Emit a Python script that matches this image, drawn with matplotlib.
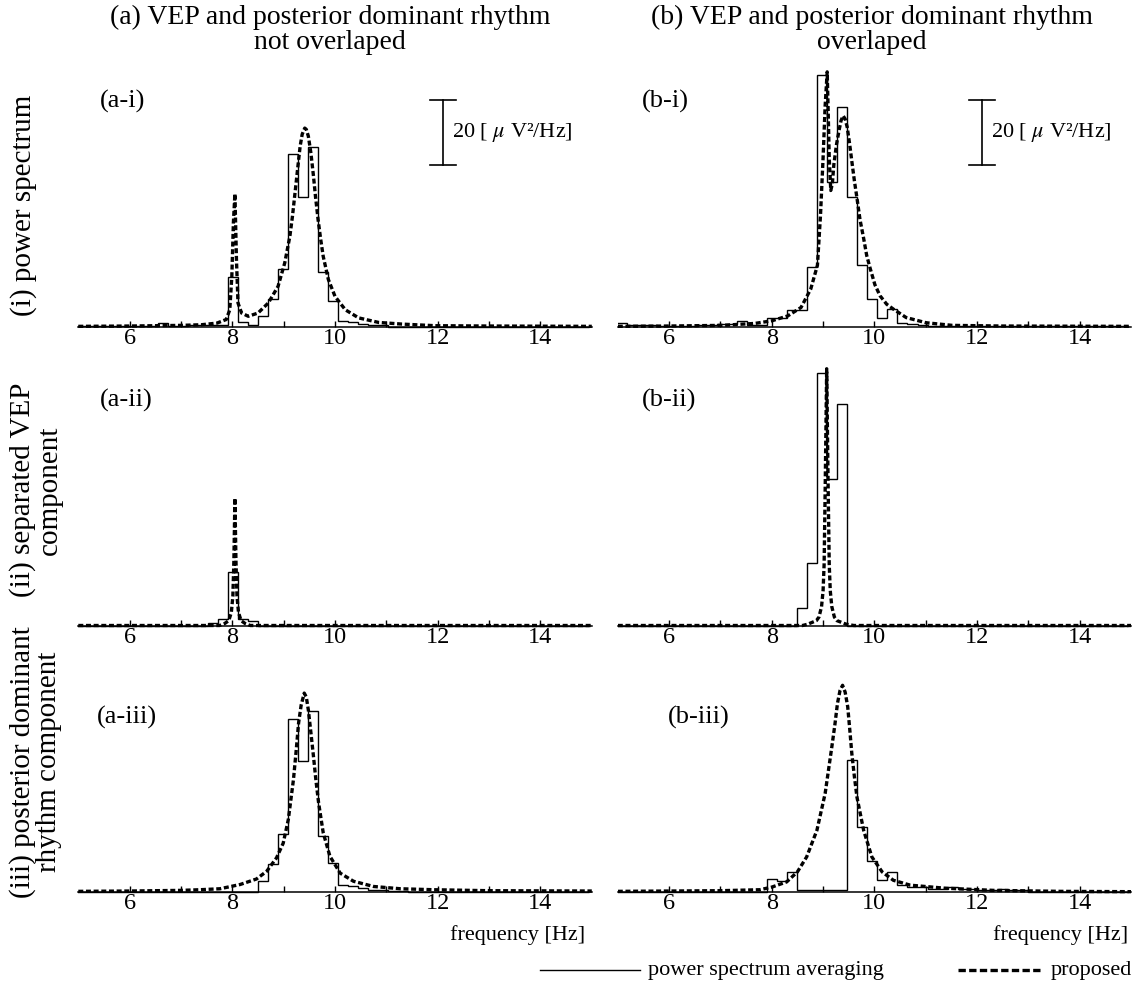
import numpy as np
import matplotlib
matplotlib.use("Agg")
import matplotlib.pyplot as plt
from matplotlib.lines import Line2D

plt.rcParams['font.family'] = ['Liberation Serif', 'DejaVu Serif']
plt.rcParams['mathtext.fontset'] = 'stix'

# ---------------- data ----------------
# spectral bins (index k, centre k/5.12 Hz)
bin_index = list(range(26, 77))
bin_res = 5.12

step_a_i = [0.3, 0.3, 0.3, 0.3, 0.3, 0.3, 0.3, 0.3,
            1.3, 0.4, 0.4, 0.5, 0.5, 0.6, 0.7, 15.4, 1.5, 0.7, 3.3, 8.7, 17.8,
            53.3, 40.1, 55.4, 16.8, 8.1, 2.0, 1.5, 0.9, 0.5, 0.5,
            0.1, 0.1, 0.1, 0.1, 0.1, 0.1, 0.1, 0.1, 0.1, 0.1,
            0.1, 0.1, 0.1, 0.1, 0.1, 0.1, 0.1, 0.1, 0.1, 0.1]
step_b_i = [1.2, 0.5, 0.5, 0.7, 0.3, 0.3, 0.3, 0.3, 0.5, 0.5, 1.0, 1.0, 1.7,
            0.5, 0.5, 2.9, 2.9, 5.3, 5.3, 18.5, 77.5, 44.5, 67.8, 40.1, 19.1,
            8.7, 2.9, 5.4, 1.2, 0.8, 0.5, 0.4, 0.4,
            0.2, 0.2, 0.2, 0.2, 0.2, 0.2, 0.2, 0.2, 0.2, 0.2, 0.2, 0.2, 0.2,
            0.2, 0.2, 0.2, 0.2, 0.2]
step_a_ii = [0, 0, 0, 0, 0, 0, 0, 0, 0, 0, 0, 0, 0,
             0.7, 1.9, 16.4, 1.9, 1.4,
             0, 0, 0, 0, 0, 0, 0, 0, 0, 0, 0, 0, 0, 0, 0, 0, 0, 0, 0, 0,
             0, 0, 0, 0, 0, 0, 0, 0, 0, 0, 0, 0, 0]
step_b_ii = [0, 0, 0, 0, 0, 0, 0, 0, 0, 0, 0, 0, 0, 0, 0, 0, 0, 0,
             5.3, 19.3, 77.7, 45.1, 68.2,
             0, 0, 0, 0, 0, 0, 0, 0, 0, 0, 0, 0, 0, 0, 0, 0, 0, 0, 0, 0,
             0, 0, 0, 0, 0, 0, 0, 0]
step_a_iii = [0, 0, 0, 0, 0, 0, 0, 0, 0, 0, 0, 0, 0, 0, 0, 0, 0, 0,
              3.3, 8.7, 17.8, 53.3, 40.4, 55.6, 17.1, 8.9, 2.2, 1.7, 1.1,
              0.7, 0.7, 0.3, 0.3,
              0.1, 0.1, 0.1, 0.1, 0.1, 0.1, 0.1, 0.1, 0.1, 0.1, 0.1, 0.1,
              0.1, 0.1, 0.1, 0.1, 0.1, 0.1]
step_b_iii = [0, 0, 0, 0, 0, 0, 0, 0, 0, 0, 0, 0, 0, 0, 0,
              3.9, 3.4, 6.2, 0.5, 0.5, 0.5, 0.5, 0.5,
              40.7, 20.0, 9.5, 3.8, 6.2, 2.1, 1.5, 1.5, 1.0, 1.0, 1.4, 1.0,
              1.0, 0.7, 0.7, 0.9, 0.5, 0.5,
              0, 0, 0, 0, 0, 0, 0, 0, 0, 0]

prop_a_i_f = [5.0, 6.0, 6.5, 7.0, 7.4, 7.7, 7.88, 7.95, 7.99, 8.02, 8.05, 8.08,
              8.11, 8.18, 8.31, 8.50, 8.70, 8.89, 9.02, 9.12, 9.17, 9.22, 9.27,
              9.32, 9.36, 9.41, 9.44, 9.48, 9.53, 9.58, 9.62, 9.67, 9.72, 9.77,
              9.87, 10.0, 10.2, 10.46, 10.85, 11.3, 11.95, 13.0, 15.0]
prop_a_i_v = [0.2, 0.3, 0.4, 0.5, 0.7, 1.2, 2.3, 5.3, 15.6, 32.0, 41.0, 20.7,
              7.4, 4.3, 3.3, 4.3, 7.4, 12.5, 19.7, 27.9, 34.0, 41.2, 48.5,
              55.6, 59.3, 61.2, 60.8, 58.7, 53.5, 46.4, 40.0, 33.0, 27.0, 21.7,
              14.6, 9.4, 5.3, 2.8, 1.4, 0.9, 0.4, 0.3, 0.2]

prop_b_i_f = [5.0, 6.0, 7.02, 7.67, 8.0, 8.31, 8.57, 8.76, 8.89, 8.95, 9.00,
              9.04, 9.08, 9.10, 9.12, 9.15, 9.18, 9.21, 9.26, 9.31, 9.35, 9.39,
              9.43, 9.47, 9.52, 9.56, 9.61, 9.66, 9.72, 9.79, 9.85, 9.92, 10.01,
              10.11, 10.24, 10.37, 10.62, 11.01, 11.52, 12.5, 15.0]
prop_b_i_v = [0.2, 0.3, 0.5, 1.1, 1.9, 3.4, 6.0, 11.7, 19.0, 34.5, 52.0,
              68.0, 78.5, 66.0, 52.0, 42.0, 44.0, 50.0, 56.0, 60.4, 63.5, 65.0,
              64.0, 61.5, 56.0, 51.0, 45.0, 39.7, 33.0, 27.3, 22.0, 17.9, 13.0,
              9.6, 7.0, 5.5, 2.9, 1.3, 0.5, 0.3, 0.2]

prop_a_ii_f = [5.0, 7.75, 7.85, 7.93, 7.98, 8.01, 8.03, 8.05, 8.07, 8.09, 8.12,
               8.17, 8.25, 8.35, 15.0]
prop_a_ii_v = [0, 0, 0.6, 1.5, 4.0, 9.0, 20.0, 39.2, 20.0, 9.0, 4.0, 1.5, 0.6,
               0, 0]

prop_b_ii_f = [5.0, 8.6, 8.7, 8.87, 8.92, 8.97, 9.0, 9.02, 9.04, 9.07, 9.10,
               9.12, 9.14, 9.17, 9.22, 9.27, 9.45, 9.6, 15.0]
prop_b_ii_v = [0, 0, 0.4, 1.5, 2.6, 5.8, 10.7, 18.7, 41.0, 79.0, 41.0, 18.7,
               10.7, 5.8, 2.6, 1.5, 0.4, 0, 0]

prop_a_iii_f = [5.0, 6.0, 7.0, 7.37, 7.76, 8.15, 8.47, 8.67, 8.86, 8.99, 9.09,
                9.19, 9.24, 9.29, 9.34, 9.40, 9.44, 9.48, 9.53, 9.58, 9.63,
                9.68, 9.77, 9.90, 10.10, 10.36, 10.75, 11.27, 11.92, 13.0, 15.0]
prop_a_iii_v = [0.2, 0.3, 0.5, 0.7, 1.0, 2.3, 4.0, 6.4, 10.5, 15.0, 22.3,
                34.6, 43.0, 52.0, 57.5, 61.2, 60.0, 56.0, 49.0, 41.7, 34.0,
                27.4, 18.2, 11.0, 5.8, 3.3, 1.7, 1.0, 0.7, 0.4, 0.3]

prop_b_iii_f = [5.0, 6.0, 7.0, 7.77, 8.0, 8.29, 8.50, 8.68, 8.88, 9.04, 9.17,
                9.23, 9.28, 9.33, 9.38, 9.43, 9.48, 9.52, 9.56, 9.61, 9.66,
                9.79, 9.95, 10.15, 10.37, 10.70, 11.35, 12.32, 13.62, 15.0]
prop_b_iii_v = [0.2, 0.3, 0.4, 0.7, 1.5, 3.1, 6.2, 10.8, 19.0, 30.3, 44.6,
                51.5, 58.0, 62.0, 63.6, 61.5, 57.0, 50.0, 42.6, 35.5, 29.2,
                19.0, 10.8, 6.2, 3.6, 2.1, 1.2, 0.5, 0.2, 0.1]

xticks_major = [6, 8, 10, 12, 14]
xticks_minor = [7, 9, 11, 13]
col_titles = ["(a) VEP and posterior dominant rhythm\nnot overlaped",
              "(b) VEP and posterior dominant rhythm\noverlaped"]
row_titles = ["(i) power spectrum", "(ii) separated VEP\ncomponent",
              "(iii) posterior dominant\nrhythm component"]
panel_tags = [["(a-i)", "(b-i)"], ["(a-ii)", "(b-ii)"], ["(a-iii)", "(b-iii)"]]
scale_value = 20
legend_labels = ["power spectrum averaging", "proposed"]

# ---------------- layout ----------------
W, H = 1138, 989
fig = plt.figure(figsize=(W / 100, H / 100), dpi=100)

col_x = [(78.3, 591.8), (617.8, 1131.0)]
row_base = [327.0, 625.5, 892.0]
px_per_unit = 3.25
ylo, yhi = -1.0, 80.0

edges = (np.array(bin_index + [bin_index[-1] + 1]) - 0.5) / bin_res

steps = [[step_a_i, step_b_i], [step_a_ii, step_b_ii], [step_a_iii, step_b_iii]]
props = [[(prop_a_i_f, prop_a_i_v), (prop_b_i_f, prop_b_i_v)],
         [(prop_a_ii_f, prop_a_ii_v), (prop_b_ii_f, prop_b_ii_v)],
         [(prop_a_iii_f, prop_a_iii_v), (prop_b_iii_f, prop_b_iii_v)]]

dot_kw = dict(color='black', lw=2.4, dashes=(1.5, 0.8), solid_capstyle='butt')

axes = {}
for r in range(3):
    for c in range(2):
        x0, x1 = col_x[c]
        ybot = row_base[r] - ylo * px_per_unit
        ytop = row_base[r] - yhi * px_per_unit
        ax = fig.add_axes([x0 / W, 1 - ybot / H, (x1 - x0) / W, (ybot - ytop) / H])
        axes[(r, c)] = ax
        ax.set_xlim(5, 15)
        ax.set_ylim(ylo, yhi)
        for s in ['top', 'right', 'left']:
            ax.spines[s].set_visible(False)
        ax.spines['bottom'].set_position(('data', 0))
        ax.spines['bottom'].set_linewidth(1.1)
        ax.set_yticks([])
        ax.set_xticks(xticks_major)
        ax.set_xticks(xticks_minor, minor=True)
        ax.tick_params(axis='x', which='both', direction='in', length=4,
                       width=1, labelsize=17.5, pad=1)
        ax.stairs(steps[r][c], edges, color='black', lw=1.0, baseline=0)
        f, v = props[r][c]
        ax.plot(f, v, **dot_kw)
        ax.patch.set_alpha(0)

# scale bars
for c in range(2):
    ax = axes[(0, c)]
    sx, stop = 12.1, 69.8
    ax.plot([sx, sx], [stop - scale_value, stop], color='black', lw=1.2)
    ax.plot([sx - 0.25, sx + 0.25], [stop, stop], color='black', lw=1.2)
    ax.plot([sx - 0.25, sx + 0.25], [stop - scale_value, stop - scale_value],
            color='black', lw=1.2)
    ax.text(sx + 0.17, stop - scale_value / 2,
            "%d [ $\\mu$ V²/Hz]" % scale_value,
            fontsize=16, va='center', ha='left')

def ftext(x, y, s, **kw):
    fig.text(x / W, 1 - y / H, s, **kw)

# column titles
ftext(330, 30, col_titles[0], fontsize=20, ha='center', va='center',
      linespacing=1.0)
ftext(872, 30, col_titles[1], fontsize=20, ha='center', va='center',
      linespacing=1.0)

# row titles
ftext(24, 205, row_titles[0], fontsize=21, rotation=90, ha='center', va='center')
ftext(36, 490, row_titles[1], fontsize=21, rotation=90, ha='center', va='center',
      linespacing=1.0)
ftext(36, 762, row_titles[2], fontsize=21, rotation=90, ha='center', va='center',
      linespacing=1.0)

# panel tags
tag_pos = [[(100, 101), (642, 101)], [(100, 400), (642, 400)],
           [(97, 717), (668, 717)]]
for r in range(3):
    for c in range(2):
        x, y = tag_pos[r][c]
        ftext(x, y, panel_tags[r][c], fontsize=19, ha='left', va='center')

# x labels
ftext(585, 935, "frequency [Hz]", fontsize=16, ha='right', va='center')
ftext(1128, 935, "frequency [Hz]", fontsize=16, ha='right', va='center')

# legend
fig.add_artist(Line2D([540 / W, 640 / W], [1 - 970 / H, 1 - 970 / H],
                      color='black', lw=1.0))
ftext(648, 970, legend_labels[0], fontsize=16, ha='left', va='center')
fig.add_artist(Line2D([958 / W, 1040 / W], [1 - 970 / H, 1 - 970 / H],
                      color='black', lw=2.4, dashes=(2.2, 1.0),
                      solid_capstyle='butt'))
ftext(1051, 970, legend_labels[1], fontsize=16, ha='left', va='center')

fig.savefig("out.png", dpi=100)
